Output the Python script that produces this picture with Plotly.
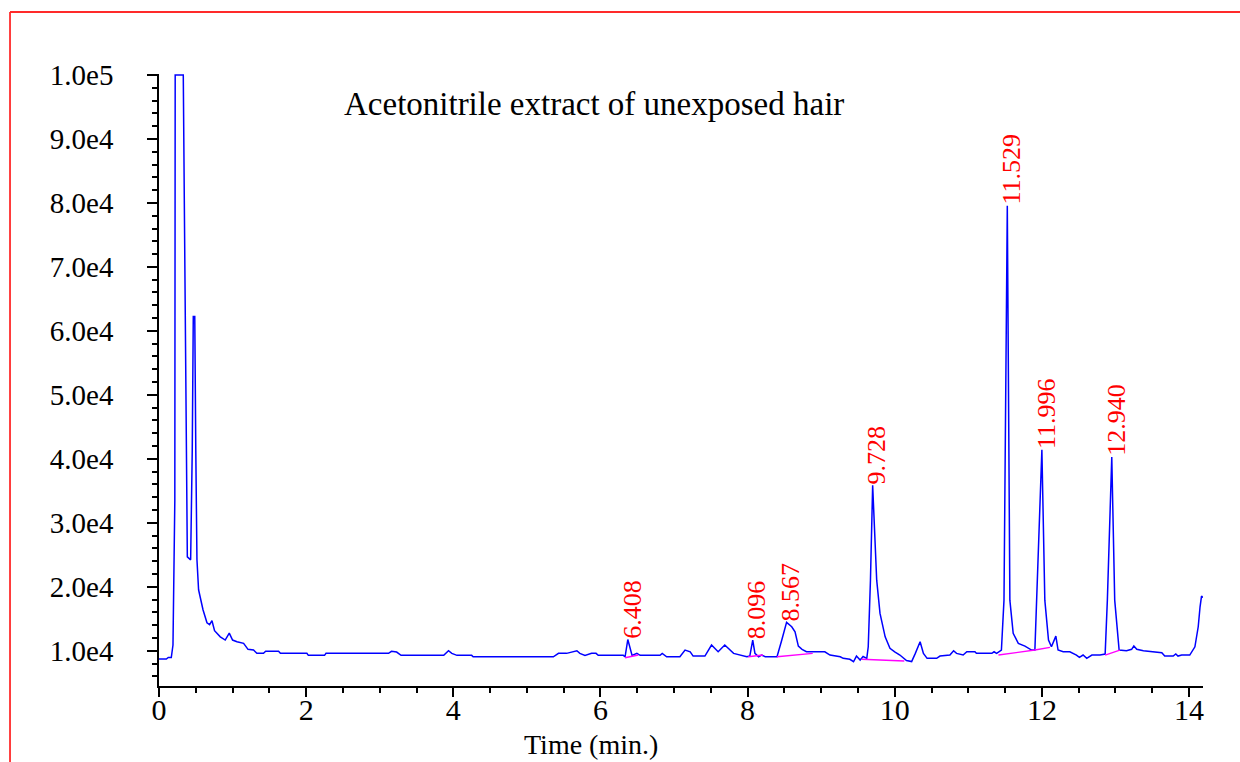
import plotly.graph_objects as go

# ---- chromatogram trace (time in min, intensity in counts) ----
time_min = [
    0.0, 0.10, 0.126, 0.167, 0.19, 0.20, 0.215, 0.22, 0.33, 0.344, 0.364, 0.385, 0.43, 0.452, 0.466,
    0.486, 0.50, 0.516, 0.538, 0.598, 0.652, 0.688, 0.72, 0.755, 0.833, 0.90, 0.955, 1.0, 1.06,
    1.15, 1.21, 1.285, 1.33, 1.42, 1.45, 1.625, 1.65, 2.01, 2.03, 2.25, 2.27, 3.12, 3.16, 3.23,
    3.29, 3.87, 3.935, 3.98, 4.05, 4.25, 4.27, 5.36, 5.43, 5.54, 5.68, 5.72, 5.79, 5.88, 5.94,
    5.97, 6.31, 6.335, 6.372, 6.43, 6.495, 6.54, 6.81, 6.84, 6.90, 7.08, 7.15, 7.22, 7.26, 7.42,
    7.51, 7.56, 7.60, 7.69, 7.75, 7.81, 7.99, 8.03, 8.07, 8.10, 8.15, 8.19, 8.24, 8.40, 8.465,
    8.53, 8.60, 8.645, 8.69, 8.74, 8.80, 9.05, 9.12, 9.26, 9.30, 9.39, 9.44, 9.48, 9.53, 9.57,
    9.62, 9.64, 9.67, 9.70, 9.755, 9.80, 9.87, 9.935, 10.0, 10.07, 10.16, 10.23, 10.28, 10.345,
    10.39, 10.44, 10.57, 10.615, 10.75, 10.80, 10.84, 10.93, 10.98, 11.09, 11.11, 11.32, 11.35,
    11.385, 11.45, 11.485, 11.53, 11.565, 11.61, 11.68, 11.77, 11.86, 11.905, 11.93, 12.0, 12.04,
    12.09, 12.13, 12.165, 12.19, 12.22, 12.29, 12.38, 12.47, 12.51, 12.56, 12.61, 12.68, 12.79,
    12.86, 12.89, 12.95, 12.99, 13.05, 13.15, 13.22, 13.25, 13.29, 13.38, 13.51, 13.63, 13.67,
    13.785, 13.82, 13.85, 13.90, 14.01, 14.08, 14.125, 14.15, 14.17, 14.19,
]
intensity = [
    8700, 8700, 8940, 8940, 10890, 17910, 33500, 100000, 100000, 80330, 49120, 24680, 24210, 41320, 62230,
    62230, 41320, 24210, 19530, 16410, 14380, 14070, 14690, 13130, 12180, 11670, 12760, 11670, 11400,
    11150, 10220, 10110, 9590, 9590, 9910, 9910, 9590, 9590, 9280, 9280, 9590, 9590, 9910, 9800,
    9280, 9280, 10000, 9590, 9280, 9280, 9060, 9060, 9590, 9590, 10000, 9590, 9280, 9590, 9590,
    9280, 9280, 9060, 11750, 9280, 9590, 9280, 9280, 9590, 9060, 9060, 10110, 9840, 9170, 9170,
    10890, 10220, 9840, 10890, 10220, 9590, 9060, 9170, 11670, 9590, 9060, 9330, 9060, 9060, 11670,
    14430, 13750, 12960, 10730, 10220, 9840, 9840, 9330, 9060, 8810, 8660, 8280, 9170, 8550, 9100,
    8810, 10620, 21030, 35860, 21030, 15840, 12180, 10370, 9840, 9330, 8470, 8310, 9590, 11400,
    9590, 8810, 8810, 9170, 9330, 10000, 9590, 9330, 9840, 9840, 9590, 9590, 9840,
    9590, 10110, 17910, 79550, 17910, 12720, 11150, 10730, 10110, 10110, 17910, 41430, 17910,
    11670, 10620, 11670, 12290, 10110, 9840, 9840, 9330, 8970, 9330, 8810, 9330, 9330,
    9490, 17910, 40270, 17910, 10110, 10000, 10220, 10730, 10220, 10000, 9840, 9690, 9170,
    9170, 9490, 9170, 9330, 9330, 10620, 13750, 16870, 18540, 18330,
]

# ---- integration baselines (start/end time, start/end intensity) ----
base_t0 = [6.335, 8.01, 8.40, 9.55, 11.41, 11.905, 12.86]
base_t1 = [6.515, 8.21, 8.885, 10.13, 11.905, 12.11, 13.06]
base_v0 = [8910, 9060, 9060, 8660, 9330, 10110, 9330]
base_v1 = [9330, 9330, 9590, 8390, 10110, 10530, 10110]

# ---- peak labels ----
peak_labels = ["6.408", "8.096", "8.567", "9.728", "11.529", "11.996", "12.940"]
peak_times = [6.372, 8.07, 8.53, 9.70, 11.53, 12.0, 12.95]
peak_heights = [11750, 11670, 14430, 35860, 79550, 41430, 40270]

# ---- axis ticks ----
x_tickvals = [0, 2, 4, 6, 8, 10, 12, 14]
y_tickvals = [10000, 20000, 30000, 40000, 50000, 60000, 70000, 80000, 90000, 100000]
y_ticktext = ["1.0e4", "2.0e4", "3.0e4", "4.0e4", "5.0e4", "6.0e4", "7.0e4", "8.0e4", "9.0e4", "1.0e5"]

title_text = "Acetonitrile extract of unexposed hair"
x_title = "Time (min.)"

FONT = "Liberation Serif, Times New Roman, serif"

fig = go.Figure()
fig.add_trace(go.Scatter(x=time_min, y=intensity, mode="lines",
                         line=dict(color="#0000ff", width=1.5), hoverinfo="skip",
                         showlegend=False))
for t0, t1, v0, v1 in zip(base_t0, base_t1, base_v0, base_v1):
    fig.add_trace(go.Scatter(x=[t0, t1], y=[v0, v1], mode="lines",
                             line=dict(color="#ff00ff", width=1.4), hoverinfo="skip",
                             showlegend=False))

for lab, t, h in zip(peak_labels, peak_times, peak_heights):
    fig.add_annotation(x=t, y=h, xref="x", yref="y", text=lab, showarrow=False,
                       textangle=-90, xanchor="center", yanchor="bottom", xshift=4, yshift=-1,
                       font=dict(family=FONT, size=26, color="#ff0000"))

fig.add_annotation(x=0.4167, y=0.951, xref="paper", yref="paper", text=title_text,
                   showarrow=False, xanchor="center", yanchor="middle",
                   font=dict(family=FONT, size=33, color="#000000"))
fig.add_annotation(x=0.4138, y=-0.0948, xref="paper", yref="paper", text=x_title,
                   showarrow=False, xanchor="center", yanchor="middle",
                   font=dict(family=FONT, size=28, color="#000000"))

# red frame (top and left edges)
fig.add_shape(type="line", xref="paper", yref="paper", x0=-0.1427, x1=1.04, y0=1.1013, y1=1.1013,
              line=dict(color="#ff2a2a", width=1.8))
fig.add_shape(type="line", xref="paper", yref="paper", x0=-0.1427, x1=-0.1427, y0=1.1013, y1=-0.13,
              line=dict(color="#ff2a2a", width=1.8))

fig.update_layout(
    width=1240, height=762,
    margin=dict(l=159, r=37, t=74, b=76),
    paper_bgcolor="white", plot_bgcolor="white",
    font=dict(family=FONT, color="#000000"),
    xaxis=dict(range=[0, 14.19], tickmode="array", tickvals=x_tickvals,
               showgrid=False, zeroline=False, showline=True, linecolor="#000000", linewidth=1.5,
               ticks="outside", ticklen=9, tickwidth=1.5, tickcolor="#000000",
               ticklabelstandoff=-13,
               tickfont=dict(family=FONT, size=30, color="#000000"),
               minor=dict(tickmode="linear", tick0=0, dtick=0.5, ticks="outside", ticklen=5,
                          tickwidth=1.5, tickcolor="#000000", showgrid=False)),
    yaxis=dict(range=[4490, 100150], tickmode="array", tickvals=y_tickvals, ticktext=y_ticktext,
               showgrid=False, zeroline=False, showline=True, linecolor="#000000", linewidth=1.5,
               ticks="outside", ticklen=10, tickwidth=1.5, tickcolor="#000000",
               ticklabelstandoff=28,
               tickfont=dict(family=FONT, size=29, color="#000000"),
               minor=dict(tickmode="linear", tick0=0, dtick=2000, ticks="outside", ticklen=5,
                          tickwidth=1.5, tickcolor="#000000", showgrid=False)),
)

fig.write_html("out.html", config={"displayModeBar": False},
               post_script="document.body.style.margin='0px';")
